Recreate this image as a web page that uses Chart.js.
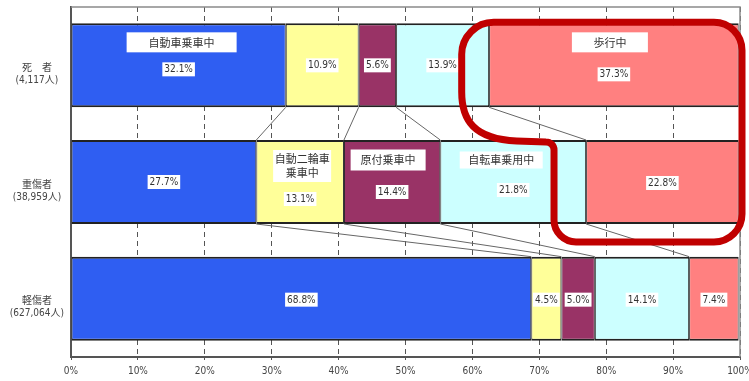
<!DOCTYPE html>
<html><head><meta charset="utf-8">
<script src="https://cdn.jsdelivr.net/npm/chart.js@4.4.1/dist/chart.umd.min.js"></script>
<style>html,body{margin:0;padding:0;background:#fff;}</style>
</head><body>
<canvas id="c" width="749" height="381"></canvas>
<script>
// ---- data ----
const rowLabels = [["死　者","(4,117人)"],["重傷者","(38,959人)"],["軽傷者","(627,064人)"]];
const modes = ["自動車乗車中","自動二輪車乗車中","原付乗車中","自転車乗用中","歩行中"];
const carPct   = [32.1, 27.7, 68.8];
const motoPct  = [10.9, 13.1, 4.5];
const mopedPct = [5.6, 14.4, 5.0];
const bikePct  = [13.9, 21.8, 14.1];
const walkPct  = [37.3, 22.8, 7.4];
const xTickValues = [0,10,20,30,40,50,60,70,80,90,100];

// ---- styles ----
const series = [carPct, motoPct, mopedPct, bikePct, walkPct];
const colors = ['#2f5ef2','#ffff99','#993366','#ccffff','#ff8080'];
const FONT = "'Liberation Sans Narrow','DejaVu Sans Condensed','Noto Sans CJK JP',sans-serif";
const CJK = "'Noto Sans CJK JP',sans-serif";
const modeBoxes = [
  {ds:0,row:0,lines:["自動車乗車中"],w:110,h:20,dx:3,dy:-23},
  {ds:1,row:1,lines:["自動二輪車","乗車中"],w:58,h:32,dx:2,dy:-16},
  {ds:2,row:1,lines:["原付乗車中"],w:75,h:21,dx:-4,dy:-22},
  {ds:3,row:1,lines:["自転車乗用中"],w:83,h:17,dx:-12,dy:-22},
  {ds:4,row:0,lines:["歩行中"],w:76,h:20,dx:-4,dy:-23}
];
const pctDy = [[4,0,1],[0,17,1],[0,10,1],[0,8,1],[9,1,1]];

const overlay = {
  id:'overlay',
  beforeDatasetsDraw(chart){
    const {ctx, chartArea:a} = chart;
    ctx.save();
    ctx.strokeStyle = '#8a8a8a'; ctx.lineWidth = 1.5;
    ctx.beginPath(); ctx.moveTo(a.left, a.top); ctx.lineTo(a.right, a.top); ctx.lineTo(a.right, a.bottom); ctx.stroke();
    ctx.restore();
  },
  afterDatasetsDraw(chart){
    const {ctx} = chart; const xs = chart.scales.x;
    const metas = series.map((_,i)=>chart.getDatasetMeta(i));
    ctx.save(); ctx.strokeStyle = '#666'; ctx.lineWidth = 1;
    for (let r=0;r<rowLabels.length-1;r++){
      let c1=0,c2=0;
      for (let i=0;i<series.length-1;i++){
        c1 += series[i][r]; c2 += series[i][r+1];
        const b1 = metas[i].data[r], b2 = metas[i].data[r+1];
        ctx.beginPath();
        ctx.moveTo(xs.getPixelForValue(c1), b1.y + b1.height/2);
        ctx.lineTo(xs.getPixelForValue(c2), b2.y - b2.height/2);
        ctx.stroke();
      }
    }
    ctx.restore();
    ctx.save();
    ctx.textAlign='center'; ctx.textBaseline='middle';
    modeBoxes.forEach(m=>{
      const el = metas[m.ds].data[m.row];
      const cx = (el.x + el.base)/2 + m.dx, cy = el.y + m.dy;
      ctx.fillStyle = '#fff';
      ctx.fillRect(cx - m.w/2, cy - m.h/2, m.w, m.h);
      ctx.fillStyle = '#333'; ctx.font = "11px " + CJK;
      const n = m.lines.length;
      m.lines.forEach((t,k)=>{ ctx.fillText(t, cx, cy + (k - (n-1)/2)*14); });
    });
    ctx.font = "10px " + FONT;
    series.forEach((s,i)=>{
      s.forEach((v,r)=>{
        const el = metas[i].data[r];
        const cx = (el.x + el.base)/2, cy = el.y + pctDy[i][r];
        const t = v.toFixed(1) + '%';
        const w = ctx.measureText(t).width + 4;
        ctx.fillStyle = '#fff'; ctx.fillRect(cx - w/2, cy - 7, w, 14);
        ctx.fillStyle = '#333'; ctx.fillText(t, cx, cy+0.5);
      });
    });
    ctx.restore();
  },
  afterDraw(chart){
    const {ctx, chartArea:a} = chart; const xs = chart.scales.x;
    const r0 = chart.getDatasetMeta(0).data[0], r1 = chart.getDatasetMeta(0).data[1];
    const yTop = r0.y - r0.height/2 - 1;
    const xR = a.right + 2;
    const yBot = r1.y + r1.height/2 + 18;
    const xM = xs.getPixelForValue(72.2);
    const yJ = r1.y - r1.height/2 + 2;
    const xL = xs.getPixelForValue(58.4);
    ctx.save();
    ctx.strokeStyle = '#c00000'; ctx.lineWidth = 7; ctx.lineJoin = 'round';
    ctx.beginPath();
    ctx.moveTo(xL+32, yTop);
    ctx.lineTo(xR-28, yTop); ctx.arcTo(xR, yTop, xR, yTop+28, 28);
    ctx.lineTo(xR, yBot-28); ctx.arcTo(xR, yBot, xR-28, yBot, 28);
    ctx.lineTo(xM+22, yBot); ctx.arcTo(xM, yBot, xM, yBot-22, 22);
    ctx.lineTo(xM, yJ+8); ctx.arcTo(xM, yJ, xM-8, yJ, 8);
    ctx.lineTo(xL+55, yJ-1);
    ctx.bezierCurveTo(xL+12, yJ-3, xL, yJ-22, xL, yJ-50);
    ctx.lineTo(xL, yTop+32); ctx.arcTo(xL, yTop, xL+32, yTop, 32);
    ctx.closePath();
    ctx.stroke();
    ctx.restore();
  }
};

new Chart(document.getElementById('c'), {
  type:'bar',
  data:{
    labels: rowLabels,
    datasets: series.map((s,i)=>({
      label: modes[i], data: s, backgroundColor: colors[i],
      borderColor:'#222', borderWidth:{top:2,bottom:2,left:1,right:1}, borderSkipped:false,
      barPercentage:0.72, categoryPercentage:1
    }))
  },
  options:{
    responsive:false, animation:false, indexAxis:'y',
    layout:{padding:{top:7,right:9,left:0,bottom:0}},
    plugins:{legend:{display:false}, tooltip:{enabled:false}},
    scales:{
      x:{
        stacked:true, min:0, max:100,
        afterBuildTicks:s=>{ s.ticks = xTickValues.map(v=>({value:v})); },
        ticks:{callback:v=>v+'%', color:'#444', font:{family:FONT,size:10}, padding:5, maxRotation:0, autoSkip:false},
        grid:{color:'#555', lineWidth:1, drawTicks:true, tickLength:3, tickColor:'#555'},
        border:{display:true, color:'#555', width:2, dash:[5,4]},
        afterFit:s=>{ s.height=24; s.paddingLeft=0; s.paddingRight=0; }
      },
      y:{
        stacked:true,
        grid:{display:false, drawTicks:false},
        border:{display:true, color:'#555', width:2},
        ticks:{color:'#444', font:{family:FONT,size:10}, crossAlign:'center', padding:7, labelOffset:9},
        afterFit:s=>{ s.width=71; s.paddingTop=0; s.paddingBottom=0; }
      }
    }
  },
  plugins:[overlay]
});
</script>
</body></html>
